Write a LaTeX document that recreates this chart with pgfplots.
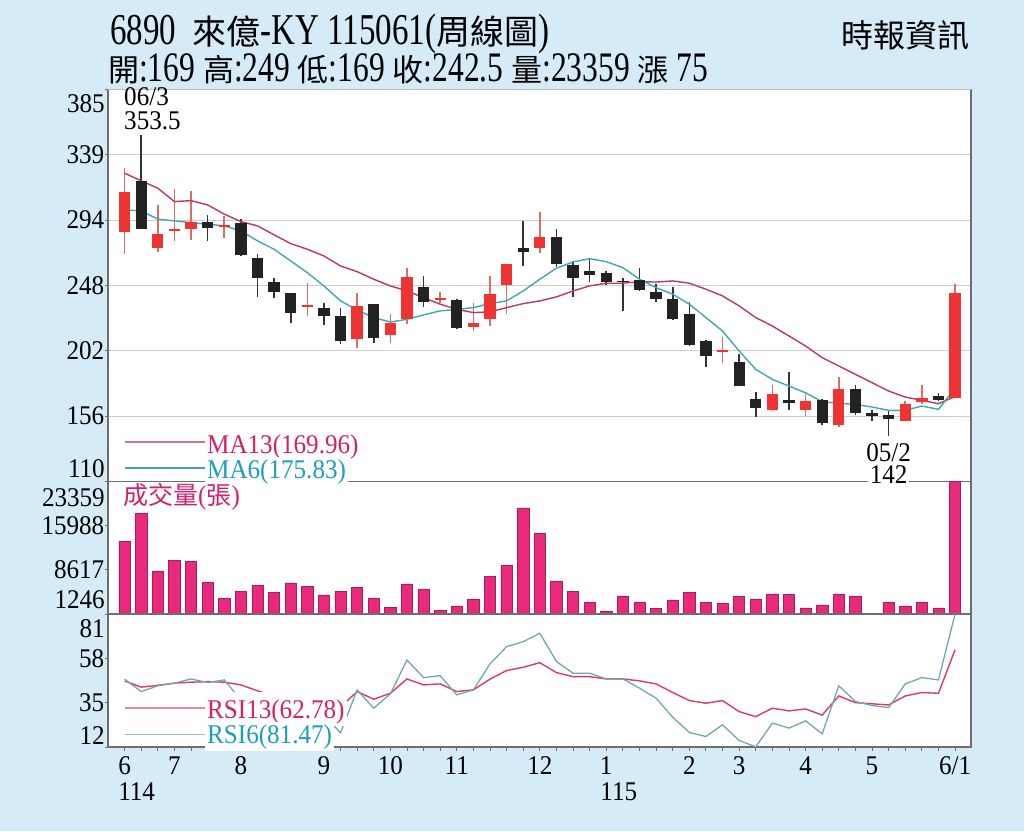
\documentclass[border=0pt]{standalone}
\usepackage{pgfplots}
\usepackage{pgfplotstable}
\pgfplotsset{compat=1.18}
\usepackage{fontspec}
\setmainfont{Liberation Serif}[FakeStretch=0.93]
\newfontfamily\cjk{Noto Sans CJK TC}
\newfontfamily\tlatin{Liberation Serif}[FakeStretch=0.75]

\definecolor{bgblue}{HTML}{D5EBF8}
\definecolor{upred}{HTML}{EE3333}
\definecolor{upwick}{HTML}{D8705E}
\definecolor{dnblack}{HTML}{222222}
\definecolor{dnwick}{HTML}{333333}
\definecolor{maA}{HTML}{B43A6E}
\definecolor{maB}{HTML}{3FA6B6}
\definecolor{txtA}{HTML}{D4206A}
\definecolor{txtB}{HTML}{1C9DBF}
\definecolor{volfill}{HTML}{E92A7C}
\definecolor{voledge}{HTML}{A8205A}
\definecolor{rsiA}{HTML}{D93A6E}
\definecolor{rsiB}{HTML}{74A6AF}
\definecolor{gridc}{HTML}{CDCDCD}
\definecolor{axisc}{HTML}{6E6E6E}
\newcommand\tk{\fontsize{27}{30}\selectfont}

% up (red) candles: index open high low close
\pgfplotstableread{
i o h l c
0 285 330.5 269.7 313.4
2 274 304.3 271.6 283.8
3 285.8 315.3 279 287.5
4 287.7 313.7 279.5 292.6
6 288.9 296.6 281 290.3
11 233 249.6 226.2 234.3
14 210.1 242.4 204.2 233.5
16 213.1 227.6 207.3 221.3
17 224.1 260.3 221 253.8
19 237.9 243.5 235.8 239.3
21 218.7 235.8 215.9 221.3
22 224.1 254.5 219.4 242.1
23 248 263.2 228.1 263.2
25 273.9 299.6 270.9 281.9
36 201.2 211.7 193.5 202.6
39 160.5 177.8 160 171.5
41 160.3 171.5 156.3 167
43 149.8 183.7 148.8 175
47 152.8 166.8 152.5 164.9
48 166.3 177.8 164.9 169.1
50 169 249 169 242.5
}\up

% down (black) candles: index open high low close
\pgfplotstableread{
i o h l c
1 321.2 353.5 287.2 287.7
5 292.4 297.3 279 288.4
7 291.5 294.3 268.3 269.2
8 267 270.2 240 253.1
9 250.1 252.9 238.9 243.1
10 242.5 242.8 221.3 228.6
12 232 235.8 220.4 226.4
13 226.4 232.3 206.6 208.7
15 235 235 207.3 210.8
18 247 254.5 232.8 236.5
20 237.5 238 217.5 217.8
24 274.2 293.1 261.3 271.3
26 282.1 287.3 260.8 263.1
27 262.2 265 239.8 253.3
28 257.8 267.4 250.5 255
29 256.6 258 248 250.5
30 251.2 252.9 230 250.7
31 251.5 260.3 244.2 244.5
32 243.5 248.7 236.5 238.6
33 238.2 247 223.5 224.1
34 228.1 236.3 205.5 205.9
35 208.9 209.5 190.9 198.4
37 194.2 200 177 177.3
38 168 173.3 155.6 162.1
40 167.5 187.4 160.5 165.2
42 167.5 168 150 151.2
44 175 177.8 156.8 158.6
45 158.2 160.7 152.8 156.1
46 156.8 159.8 142 154
49 170.1 172.2 167 167.5
}\down

% moving averages: MA13 (a), MA6 (b)
\pgfplotstableread{
i a b
0 326.5 300.8
1 321.2 300.1
2 316 294.3
3 306.6 293.1
4 307.3 291.9
5 304.3 290.8
6 297.8 289.6
7 292.6 286.1
8 289.6 279.1
9 283.3 273.2
10 277.2 265
11 273.2 256.8
12 268.5 247.5
13 261.5 237
14 257.5 230.7
15 252.2 225.3
16 247.5 222.2
17 244 224.1
18 239.3 227.2
19 234.7 230
20 231.1 231.1
21 228.8 232.3
22 229.3 235.1
23 232.3 237
24 235.1 244
25 237 252.2
26 239.8 259.9
27 244 264.3
28 247.5 266.6
29 249.4 264.5
30 249.4 260.3
31 250.5 252.2
32 250.2 246.3
33 251 241.7
34 249.4 234.7
35 245.2 225.3
36 240.5 215.9
37 233.5 201.9
38 225.3 189
39 219.4 182
40 212.4 177.3
41 205.4 172.6
42 197.2 166.3
43 191.4 165.2
44 185.5 164.5
45 179.7 162.6
46 173.8 160.3
47 169.6 160.3
48 167.3 163.3
49 164.9 161
50 169.96 175.83
}\ma

% weekly volume
\pgfplotstableread{
i v
0 13356
1 17996
2 8449
3 10174
4 10073
5 6556
6 3876
7 4981
8 5986
9 4881
10 6439
11 5819
12 4429
13 5048
14 5651
15 3926
16 2368
17 6271
18 5383
19 1799
20 2586
21 3641
22 7494
23 9403
24 18951
25 14763
26 6774
27 4981
28 3139
29 1748
30 4261
31 3206
32 2134
33 3591
34 4881
35 3139
36 3038
37 4211
38 3759
39 4596
40 4479
41 2251
42 2754
43 4596
44 4211
45 1246
46 3206
47 2586
48 3139
49 2251
50 23359
}\vol

% RSI13 (a), RSI6 (b)
\pgfplotstableread{
i a b
0 46.5 47.4
1 43.2 40.9
2 44.2 43.9
3 45.3 45.3
4 45.8 47.5
5 46.1 45.6
6 45.8 47.0
7 44.4 36.6
8 41.3 30
9 38.6 26
10 35.5 21
11 36.5 31
12 35 28.7
13 32.9 19.3
14 40.9 41.8
15 36.9 32.2
16 40.0 39.7
17 47.5 57.4
18 44.4 48.2
19 44.9 49.2
20 40.9 39.2
21 41.8 41.8
22 47.4 55.4
23 51.9 64.4
24 53.6 67.0
25 56.0 71.4
26 50.8 56.6
27 48.7 50.5
28 48.7 50.5
29 47.5 47.5
30 47.5 47.5
31 46.5 42.7
32 44.9 37.4
33 40.4 27.5
34 36.2 19.5
35 34.8 17.4
36 36.2 23.5
37 30.4 15.3
38 27.8 12.0
39 32.2 24.4
40 30.8 21.8
41 31.8 25.6
42 28.6 18.8
43 38.6 43.9
44 35.1 35.7
45 34.5 33.6
46 33.9 32.5
47 38.6 44.9
48 40.4 48.2
49 40.0 47.0
50 62.78 81.47
}\rsi

\pgfplotsset{
  panel/.style={
    scale only axis, width=863pt, xmin=-1, xmax=50.96,
    axis background/.style={fill=white},
    axis line style={draw=axisc, line width=1.1pt},
    tick style={draw=axisc, line width=0.9pt},
    major tick length=3.5pt, minor tick length=3.5pt, tick align=outside,
    xtick=\empty, ytick pos=left, scaled y ticks=false, scaled x ticks=false,
    ticklabel style={font=\tk, text=black},
    yticklabel style={inner sep=0pt},
    clip mode=individual,
  },
  wick/.style={forget plot, draw=none, mark=none,
    error bars/.cd, y dir=plus, y explicit, error mark=none,
    error bar style={draw=#1, line width=1.6pt}},
  body/.style={forget plot, draw=none, mark=none,
    error bars/.cd, y dir=plus, y explicit, error mark=none,
    error bar style={draw=#1, line width=11.3pt}},
}

\begin{document}
\begin{tikzpicture}
\useasboundingbox (0pt,0pt) rectangle (1024pt,831pt);
\fill[bgblue] (0pt,0pt) rectangle (1024pt,831pt);

% ---------- price panel ----------
\begin{scope}[shift={(108pt,349.5pt)}]
\begin{axis}[panel, anchor=south west, at={(0pt,0pt)}, height=392pt,
  ymin=110.4, ymax=385.2,
  ytick={110.4,156.2,202,247.8,293.6,339.4,385.2},
  yticklabels={{},156,202,248,294,339,{}},
  ymajorgrids, grid style={draw=gridc, line width=1pt}]
\addplot[wick=upwick] table[x=i, y=l, y error expr=\thisrow{h}-\thisrow{l}] {\up};
\addplot[wick=dnwick] table[x=i, y=l, y error expr=\thisrow{h}-\thisrow{l}] {\down};
\addplot[maA, line width=1.4pt, mark=none] table[x=i, y=a] {\ma};
\addplot[maB, line width=1.4pt, mark=none] table[x=i, y=b] {\ma};
\addplot[body=upred] table[x=i, y=o, y error expr=\thisrow{c}-\thisrow{o}] {\up};
\addplot[body=dnblack] table[x=i, y=c, y error expr=\thisrow{o}-\thisrow{c}] {\down};
\node[anchor=east, inner sep=0pt, font=\tk, xshift=-3pt, yshift=-14.5pt] at (rel axis cs:0,1) {385};
\node[anchor=east, inner sep=0pt, font=\tk, xshift=-3pt, yshift=12.5pt] at (rel axis cs:0,0) {110};
\end{axis}
\end{scope}
\draw[draw=gridc!80!gray, line width=1.1pt] (108pt,741.5pt) -- (971pt,741.5pt);

% ---------- volume panel ----------
\begin{scope}[shift={(108pt,217pt)}]
\begin{axis}[panel, anchor=south west, at={(0pt,0pt)}, height=132.5pt,
  ymin=1246, ymax=23359,
  ytick={1246,8617,15988,23359},
  yticklabels={{},8617,15988,{}}]
\addplot[ybar, bar shift=0pt, bar width=11.3pt, fill=volfill, draw=voledge, line width=0.6pt] table[x=i, y=v] {\vol};
\node[anchor=east, inner sep=0pt, font=\tk, xshift=-3pt, yshift=-16pt] at (rel axis cs:0,1) {23359};
\node[anchor=east, inner sep=0pt, font=\tk, xshift=-3pt, yshift=14pt] at (rel axis cs:0,0) {1246};
\end{axis}
\end{scope}

% ---------- RSI panel ----------
\begin{scope}[shift={(108pt,84pt)}]
\begin{axis}[panel, anchor=south west, at={(0pt,0pt)}, height=133pt,
  ymin=11.9, ymax=81.47,
  ytick={11.9,35.09,58.28,81.47},
  yticklabels={{},35,58,{}},
  xtick={0,3,7,12,16,20,25,29,34,37,41,45,50},
  xticklabels={6,7,8,9,10,11,12,1,2,3,4,5,6/1},
  minor xtick={0,...,50}, xtick pos=bottom,
  xticklabel style={inner sep=0pt, yshift=-6pt}]
\addplot[rsiA, line width=1.4pt, mark=none] table[x=i, y=a] {\rsi};
\addplot[rsiB, line width=1.3pt, mark=none] table[x=i, y=b] {\rsi};
\node[anchor=east, inner sep=0pt, font=\tk, xshift=-3pt, yshift=-15pt] at (rel axis cs:0,1) {81};
\node[anchor=east, inner sep=0pt, font=\tk, xshift=-3pt, yshift=11pt] at (rel axis cs:0,0) {12};
\node[anchor=north west, inner sep=0pt, font=\tk, xshift=-6.5pt, yshift=-35pt] at (axis cs:0,11.9) {114};
\node[anchor=north west, inner sep=0pt, font=\tk, xshift=-6pt, yshift=-35pt] at (axis cs:29,11.9) {115};
\end{axis}
\end{scope}

% ---------- legends and annotations ----------
\draw[maA!70, line width=1.2pt] (125pt,389pt) -- (207pt,389pt);
\draw[maB!80!gray, line width=1.2pt] (125pt,363pt) -- (207pt,363pt);
\node[anchor=base west, fill=white, inner sep=2pt, font=\tk, text=txtA] at (205pt,378pt) {MA13(169.96)};
\node[anchor=base west, fill=white, inner sep=2pt, font=\tk, text=txtB] at (205pt,353pt) {MA6(175.83)};

\draw[rsiA!60, line width=1.2pt] (125pt,123pt) -- (207pt,123pt);
\draw[rsiB!70, line width=1.2pt] (125pt,96.5pt) -- (207pt,96.5pt);
\node[anchor=base west, fill=white, inner sep=2pt, text height=24pt, text depth=5.8pt, font=\tk, text=txtA] at (205pt,113pt) {RSI13(62.78)};
\node[anchor=base west, fill=white, inner sep=2pt, font=\tk, text=txtB] at (205pt,88pt) {RSI6(81.47)};

\node[anchor=west, inner sep=0pt, text=txtA] at (123pt,334pt) {\cjk\fontsize{25}{28}\selectfont 成交量\rmfamily\fontsize{27}{30}\selectfont(\cjk\fontsize{25}{28}\selectfont 張\rmfamily\fontsize{27}{30}\selectfont)};

\node[anchor=base west, inner sep=0pt, font=\tk] at (124pt,725pt) {06/3};
\node[anchor=base west, inner sep=0pt, font=\tk] at (124pt,701pt) {353.5};
\node[anchor=base, inner sep=0pt, font=\tk] at (888.6pt,370pt) {05/2};
\node[anchor=base, fill=white, inner sep=1.5pt, font=\tk] at (888.6pt,348pt) {142};

% ---------- titles ----------
\node[anchor=base west, inner sep=0pt] at (110pt,786pt)
  {\tlatin\fontsize{44}{48}\selectfont 6890\ \ {\cjk\fontsize{34}{38}\selectfont 來億}-KY 115061({\cjk\fontsize{34}{38}\selectfont 周線圖})};
\node[anchor=base west, inner sep=0pt] at (108pt,749pt)
  {\tlatin\fontsize{42}{46}\selectfont{\cjk\fontsize{31}{34}\selectfont 開}:169 {\cjk\fontsize{31}{34}\selectfont 高}:249 {\cjk\fontsize{31}{34}\selectfont 低}:169 {\cjk\fontsize{31}{34}\selectfont 收}:242.5 {\cjk\fontsize{31}{34}\selectfont 量}:23359 {\cjk\fontsize{31}{34}\selectfont 漲} 75};
\node[anchor=base east, inner sep=0pt] at (970pt,783pt)
  {\cjk\fontsize{32}{36}\selectfont 時報資訊};
\end{tikzpicture}
\end{document}
